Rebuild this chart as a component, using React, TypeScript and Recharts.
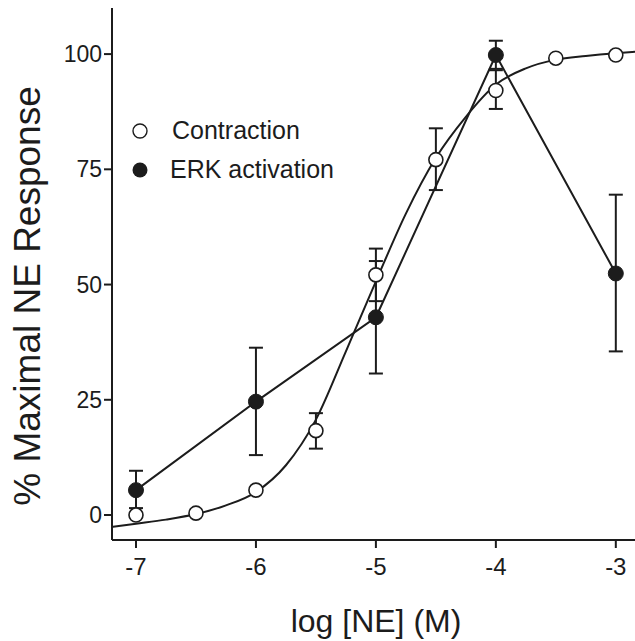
import { ComposedChart, Line, XAxis, YAxis, ErrorBar, Label } from 'recharts'

// log [NE] (M) positions
const contractionX = [-7, -6.5, -6, -5.5, -5, -4.5, -4, -3.5, -3]
const contractionY = [0, 0.4, 5.4, 18.3, 52.1, 77.1, 92.1, 99.1, 99.8]
const contractionLo = [0, 0, 0, 3.9, 5.7, 6.6, 4, 0, 0]
const contractionHi = [0, 0, 0, 3.8, 5.7, 6.8, 4.4, 0, 0]

const erkX = [-7, -6, -5, -4, -3]
const erkY = [5.4, 24.6, 42.9, 99.8, 52.4]
const erkLo = [3.9, 11.6, 12.2, 3.0, 16.9]
const erkHi = [4.2, 11.7, 12.2, 3.1, 17.1]

// fitted contraction curve
const fitX = [-7.2, -7, -6.75, -6.5, -6.25, -6, -5.75, -5.5, -5.25, -5, -4.75, -4.5, -4.25, -4, -3.75, -3.5, -3.25, -3, -2.84]
const fitY = [-2.6, -1.9, -1.0, 0.2, 2.1, 5.0, 10.8, 20.7, 35.5, 50.7, 65.4, 77.5, 86.4, 93.4, 96.9, 98.8, 99.6, 100.2, 100.5]

const xTicks = [-7, -6, -5, -4, -3]
const yTicks = [0, 25, 50, 75, 100]

const contractionData = contractionX.map((x, i) => ({ x, y: contractionY[i], err: [contractionLo[i], contractionHi[i]] }))
const erkData = erkX.map((x, i) => ({ x, y: erkY[i], err: [erkLo[i], erkHi[i]] }))
const fitData = fitX.map((x, i) => ({ x, y: fitY[i] }))

const INK = '#1c1c1c'
const FONT = '"Liberation Sans", Arial, sans-serif'

const OpenDot = (props: any) => {
  const { cx, cy } = props
  if (cx == null || cy == null) return null
  return <circle cx={cx} cy={cy} r={7} fill='#fff' stroke={INK} strokeWidth={1.6} />
}

const FilledDot = (props: any) => {
  const { cx, cy } = props
  if (cx == null || cy == null) return null
  return <circle cx={cx} cy={cy} r={7.5} fill={INK} stroke={INK} strokeWidth={1} />
}

export default function App() {
  return (
    <div style={{ position: 'absolute', left: 0, top: 0, width: 635, height: 641, background: '#fff', fontFamily: FONT }}>
      <ComposedChart width={635} height={641} margin={{ top: 8, right: 0, left: 0, bottom: 0 }}>
        <XAxis
          dataKey='x'
          type='number'
          domain={[-7.2, -2.84]}
          ticks={xTicks}
          allowDataOverflow
          height={101}
          tickSize={8}
          tickMargin={10}
          fontSize={24}
          axisLine={{ stroke: INK, strokeWidth: 2 }}
          tickLine={{ stroke: INK, strokeWidth: 2 }}
          tick={{ fontSize: 24, fill: INK, fontFamily: FONT }}
        >
          <Label
            content={() => (
              <text x={376} y={632} textAnchor='middle' fontSize={32} fill={INK} fontFamily={FONT}>
                log [NE] (M)
              </text>
            )}
          />
        </XAxis>
        <YAxis
          type='number'
          domain={[-5.42, 110]}
          ticks={yTicks}
          allowDataOverflow
          width={112}
          tickSize={8}
          tickMargin={2}
          fontSize={23}
          axisLine={{ stroke: INK, strokeWidth: 2 }}
          tickLine={{ stroke: INK, strokeWidth: 2 }}
          tick={{ fontSize: 23, fill: INK, fontFamily: FONT }}
        >
          <Label
            content={() => (
              <text
                transform='translate(40,296) rotate(-90)'
                textAnchor='middle'
                fontSize={37}
                fill={INK}
                fontFamily={FONT}
              >
                % Maximal NE Response
              </text>
            )}
          />
        </YAxis>
        <Line
          data={fitData}
          dataKey='y'
          type='monotone'
          stroke={INK}
          strokeWidth={2}
          dot={false}
          activeDot={false}
          isAnimationActive={false}
        />
        <Line
          data={erkData}
          dataKey='y'
          type='linear'
          stroke={INK}
          strokeWidth={2}
          dot={<FilledDot />}
          activeDot={false}
          isAnimationActive={false}
        >
          <ErrorBar dataKey='err' width={7} stroke={INK} strokeWidth={2} />
        </Line>
        <Line
          data={contractionData}
          dataKey='y'
          type='linear'
          stroke='none'
          dot={<OpenDot />}
          activeDot={false}
          isAnimationActive={false}
        >
          <ErrorBar dataKey='err' width={7} stroke={INK} strokeWidth={2} />
        </Line>
      </ComposedChart>
      <div style={{ position: 'absolute', left: 131, top: 111, fontSize: 25, color: INK, lineHeight: '39px' }}>
        <div style={{ display: 'flex', alignItems: 'center' }}>
          <svg width={18} height={18} style={{ marginRight: 23 }}>
            <circle cx={9} cy={9} r={7} fill='#fff' stroke={INK} strokeWidth={1.4} />
          </svg>
          <span>Contraction</span>
        </div>
        <div style={{ display: 'flex', alignItems: 'center' }}>
          <svg width={18} height={18} style={{ marginRight: 21 }}>
            <circle cx={9} cy={9} r={7.5} fill={INK} />
          </svg>
          <span>ERK activation</span>
        </div>
      </div>
    </div>
  )
}
